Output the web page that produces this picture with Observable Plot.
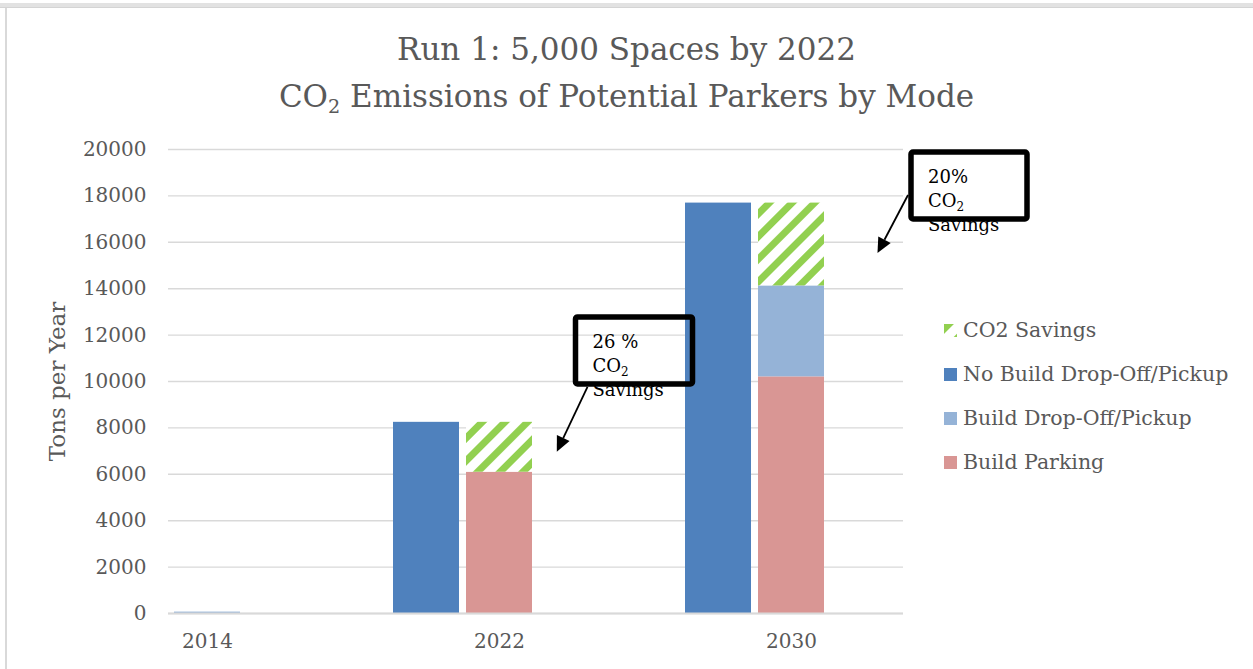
<!DOCTYPE html>
<html>
<head>
<meta charset="utf-8">
<script src="https://cdn.jsdelivr.net/npm/d3@7"></script>
<script src="https://cdn.jsdelivr.net/npm/@observablehq/plot@0.6"></script>
<style>
  html, body { margin: 0; padding: 0; background: #fff; }
  #wrap { position: relative; width: 1253px; height: 669px; overflow: hidden; background: #fff; font-family: "DejaVu Serif", serif; }
  #topband { position: absolute; left: 0; top: 3px; width: 1253px; height: 5px; background: #e2e2e2; border-bottom: 1px solid #d4d4d4; box-sizing: border-box; }
  #leftline { position: absolute; left: 5px; top: 8px; width: 2px; height: 661px; background: #d9d9d9; }
  #title { position: absolute; left: 0; top: 26px; width: 1253px; text-align: center; color: #595959; font-size: 31px; line-height: 47px; }
  #title sub { font-size: 62%; line-height: 0; vertical-align: -0.32em; }
  #chart { position: absolute; left: 0; top: 130px; }
  #legend { position: absolute; left: 944px; top: 308px; color: #595959; font-size: 20.5px; }
  .lrow { display: flex; align-items: center; height: 44px; white-space: nowrap; }
  .lrow svg { margin-right: 6px; flex: none; }
</style>
</head>
<body>
<div id="wrap">
  <div id="topband"></div>
  <div id="leftline"></div>
  <div id="title">Run 1: 5,000 Spaces by 2022<br>CO<sub>2</sub> Emissions of Potential Parkers by Mode</div>
  <div id="chart"></div>
  <div id="legend"></div>
</div>
<script>
// ---- data ----
const years = ["2014", "2022", "2030"];
const noBuild = [60, 8240, 17690];
const buildParking = [0, 6090, 10200];
const buildDropoff = [60, 0, 3920];
const co2Savings = [0, 2150, 3570];
const savingsText = ["", "26 %", "20%"];
const seriesNames = ["CO2 Savings", "No Build Drop-Off/Pickup", "Build Drop-Off/Pickup", "Build Parking"];
const seriesColors = ["url(#co2hatch)", "#4f81bd", "#95b3d7", "#d99694"];
const yTicks = [0, 2000, 4000, 6000, 8000, 10000, 12000, 14000, 16000, 18000, 20000];
const yLabel = "Tons per Year";

// ---- slots (the 2014 "No Build" slot is cut off at the left edge in the original) ----
const allSlots = years.flatMap(y => [`${y}|No Build`, `${y}|Build`, `${y}|gap1`, `${y}|gap2`]);
const slots = allSlots.slice(1, 11);

const rows = [];
years.forEach((yr, i) => {
  rows.push({slot: `${yr}|No Build`, series: seriesNames[1], value: noBuild[i]});
  rows.push({slot: `${yr}|Build`, series: seriesNames[3], value: buildParking[i]});
  rows.push({slot: `${yr}|Build`, series: seriesNames[2], value: buildDropoff[i]});
  rows.push({slot: `${yr}|Build`, series: seriesNames[0], value: co2Savings[i]});
});
const visibleRows = rows.filter(r => slots.includes(r.slot));

const plot = Plot.plot({
  width: 1253,
  height: 539,
  marginLeft: 168,
  marginRight: 350,
  marginTop: 19,
  marginBottom: 56,
  style: {fontFamily: "DejaVu Serif, serif", fontSize: "20px", color: "#595959", background: "transparent", overflow: "visible"},
  x: {type: "band", domain: slots, paddingInner: 0.09, paddingOuter: 0.045, axis: null},
  y: {domain: [0, 20000], axis: null},
  color: {domain: seriesNames, range: seriesColors},
  marks: [
    Plot.gridY(yTicks, {stroke: "#d9d9d9", strokeOpacity: 1, strokeWidth: 1.4}),
    Plot.barY(visibleRows, {x: "slot", y: "value", fill: "series"}),
    Plot.ruleY([0], {stroke: "#d9d9d9", strokeWidth: 2}),
    Plot.axisY(yTicks, {tickSize: 0, tickPadding: 22, tickFormat: d => String(d), fill: "#595959", label: null}),
    Plot.axisX(years.map(y => `${y}|Build`), {tickSize: 0, tickPadding: 20, tickFormat: d => d.split("|")[0], fill: "#595959", label: null}),
    Plot.text([yLabel], {frameAnchor: "left", dx: -111, rotate: -90, textAnchor: "middle", text: d => d, fontSize: 23, fill: "#595959"})
  ]
});
document.getElementById("chart").appendChild(plot);

const svg = d3.select(plot);
const defs = svg.insert("defs", ":first-child");
const pat = defs.append("pattern")
  .attr("id", "co2hatch").attr("patternUnits", "userSpaceOnUse")
  .attr("width", 16).attr("height", 16).attr("patternTransform", "rotate(45)");
pat.append("rect").attr("width", 16).attr("height", 16).attr("fill", "#ffffff");
pat.append("rect").attr("width", 7).attr("height", 16).attr("fill", "#92d050");

// ---- annotations (placed through the chart's own scales) ----
const xs = plot.scale("x"), ys = plot.scale("y");
const annoLayout = {
  "2022": {dx: 36.5, top: 12760, w: 117, h: 67, from: [12, 70], to: [-18.7, 134.7]},
  "2030": {dx: 80, top: 19870, w: 116, h: 67, from: [-3, 43], to: [-33.5, 101]}
};
const ag = svg.append("g").attr("font-family", "DejaVu Serif, serif").attr("font-size", 18)
  .attr("fill", "#000").attr("text-anchor", "start");
years.forEach((yr, i) => {
  const L = annoLayout[yr];
  if (!L || !savingsText[i]) return;
  const bx = xs.apply(`${yr}|gap1`) + L.dx;
  const by = ys.apply(L.top);
  const tx = bx + 17;
  const t = ag.append("text").attr("x", tx).attr("y", by + 31).attr("text-anchor", "start");
  t.append("tspan").attr("x", tx).text(savingsText[i]);
  t.append("tspan").attr("x", tx).attr("dy", 24).text("CO");
  t.append("tspan").attr("font-size", 12).attr("dy", 4).text("2");
  t.append("tspan").attr("x", tx).attr("dy", 20).text("Savings");
  ag.append("rect").attr("x", bx).attr("y", by).attr("width", L.w).attr("height", L.h)
    .attr("rx", 2).attr("fill", "none").attr("stroke", "#000").attr("stroke-width", 5.5);
  const x1 = bx + L.from[0], y1 = by + L.from[1], x2 = bx + L.to[0], y2 = by + L.to[1];
  const ang = Math.atan2(y2 - y1, x2 - x1), hl = 15, hw = 7;
  const bxh = x2 - hl * Math.cos(ang), byh = y2 - hl * Math.sin(ang);
  ag.append("line").attr("x1", x1).attr("y1", y1).attr("x2", bxh).attr("y2", byh)
    .attr("stroke", "#000").attr("stroke-width", 1.8);
  ag.append("polygon").attr("points", [
    [x2, y2],
    [bxh + hw * Math.sin(ang), byh - hw * Math.cos(ang)],
    [bxh - hw * Math.sin(ang), byh + hw * Math.cos(ang)]
  ].map(p => p.join(",")).join(" ")).attr("fill", "#000");
});

// ---- legend ----
const legend = d3.select("#legend");
seriesNames.forEach((name, i) => {
  const row = legend.append("div").attr("class", "lrow");
  const s = row.append("svg").attr("width", 13).attr("height", 13);
  s.append("rect").attr("width", 13).attr("height", 13).attr("fill", seriesColors[i]);
  row.append("span").text(name);
});
</script>
</body>
</html>
